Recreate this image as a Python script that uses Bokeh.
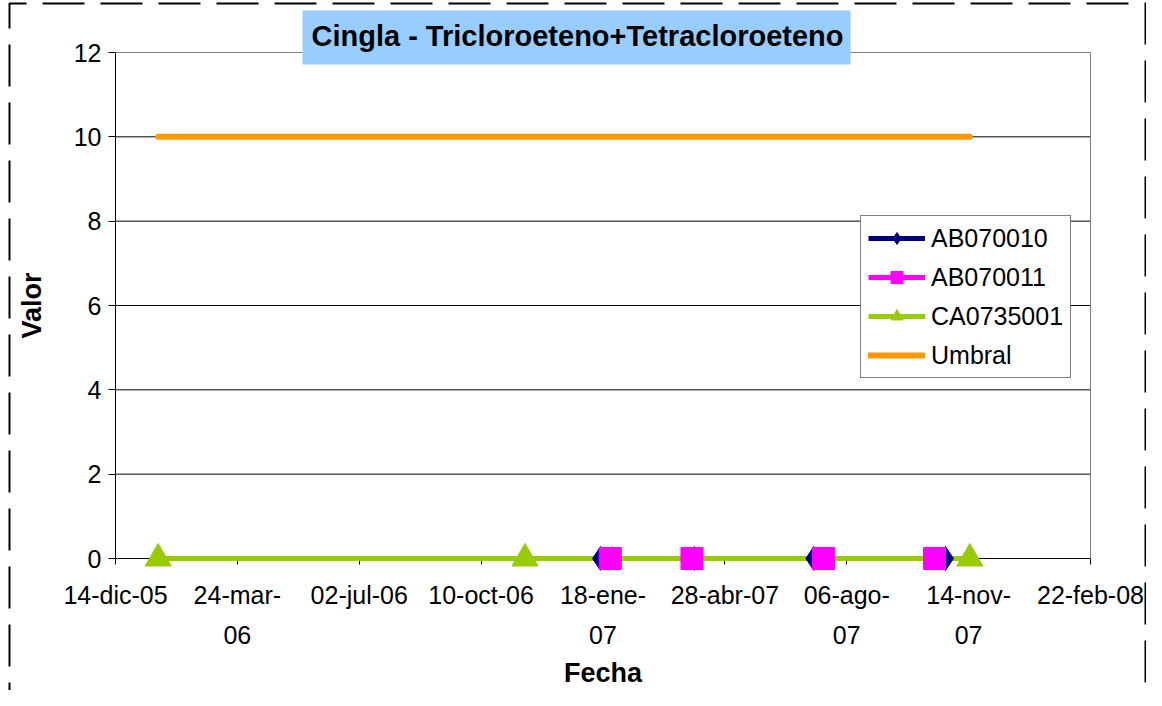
import pandas as pd
from bokeh.plotting import figure
from bokeh.models import (Range1d, FixedTicker, Legend, LegendItem, BoxAnnotation,
                          PolyAnnotation, Label, ColumnDataSource)
from bokeh.embed import file_html
from bokeh.resources import INLINE

# ---------------- data ----------------
title_text = "Cingla - Tricloroeteno+Tetracloroeteno"
x_label = "Fecha"
y_label = "Valor"

tick_dates = ["2005-12-14", "2006-03-24", "2006-07-02", "2006-10-10", "2007-01-18",
              "2007-04-28", "2007-08-06", "2007-11-14", "2008-02-22"]
tick_labels = ["14-dic-05", "24-mar-\n06", "02-jul-06", "10-oct-06", "18-ene-\n07",
               "28-abr-07", "06-ago-\n07", "14-nov-\n07", "22-feb-08"]
y_ticks = [0, 2, 4, 6, 8, 10, 12]

ab070010_dates = ["2007-01-16", "2007-04-03", "2007-07-10", "2007-10-26"]
ab070010_values = [0, 0, 0, 0]
ab070011_dates = ["2007-01-24", "2007-04-01", "2007-07-18", "2007-10-17"]
ab070011_values = [0, 0, 0, 0]
ca0735001_dates = ["2006-01-18", "2006-11-15", "2007-11-15"]
ca0735001_values = [0, 0, 0]
umbral_dates = ["2006-01-18", "2007-11-15"]
umbral_values = [10, 10]

series_names = ["AB070010", "AB070011", "CA0735001", "Umbral"]

# ---------------- layout (pixels on the canvas) ----------------
W, H = 1146, 690
PL, PR, PT, PB = 115, 1090, 52, 558   # plot-area box

def to_ms(dates):
    return [float(v) for v in (pd.to_datetime(dates).asi8 // 1_000_000)]

tick_ms = to_ms(tick_dates)
x0, x1 = tick_ms[0], tick_ms[-1]
y0, y1 = y_ticks[0], y_ticks[-1]
mpp = (x1 - x0) / (PR - PL)
upp = (y1 - y0) / (PB - PT)
FONT = "Liberation Sans"

p = figure(width=W, height=H, x_axis_type="datetime",
           output_backend="svg", toolbar_location=None,
           x_range=Range1d(x0 - PL * mpp, x1 + (W - PR) * mpp),
           y_range=Range1d(y0 - (H - PB) * upp, y1 + PT * upp))
p.min_border = 0
p.min_border_left = 0
p.min_border_right = 0
p.min_border_top = 0
p.min_border_bottom = 0
p.background_fill_color = "white"
p.border_fill_color = "white"
p.outline_line_color = None
p.xgrid.visible = False
p.ygrid.visible = False

# x axis, drawn at y = 0
xa = p.xaxis[0]
xa.fixed_location = y0
xa.bounds = (x0, x1)
xa.level = "underlay"
xa.ticker = FixedTicker(ticks=tick_ms)
xa.major_label_overrides = {t: lab for t, lab in zip(tick_ms, tick_labels)}
xa.axis_line_color = "black"
xa.major_tick_line_color = "black"
xa.major_tick_out = 6
xa.major_tick_in = 0
xa.minor_tick_line_color = None
xa.major_label_text_font = FONT
xa.major_label_text_font_size = "25px"
xa.major_label_text_color = "black"
xa.major_label_text_line_height = 1.45
xa.major_label_standoff = 16
xa.axis_label = x_label
xa.axis_label_text_font = FONT
xa.axis_label_text_font_size = "27px"
xa.axis_label_text_font_style = "bold"
xa.axis_label_text_color = "black"
xa.axis_label_standoff = 6

# y axis, drawn at the first date tick
ya = p.yaxis[0]
ya.fixed_location = x0
ya.bounds = (y0, y1)
ya.level = "underlay"
ya.ticker = FixedTicker(ticks=y_ticks)
ya.axis_line_color = "black"
ya.major_tick_line_color = "black"
ya.major_tick_out = 7
ya.major_tick_in = 0
ya.minor_tick_line_color = None
ya.major_label_text_font = FONT
ya.major_label_text_font_size = "25px"
ya.major_label_text_color = "black"
ya.major_label_standoff = 7
ya.axis_label = y_label
ya.axis_label_text_font = FONT
ya.axis_label_text_font_size = "27px"
ya.axis_label_text_font_style = "bold"
ya.axis_label_text_color = "black"
ya.axis_label_standoff = 24

# grid lines and plot-area border (from the tick arrays)
grid_y = y_ticks[1:-1]
p.segment(x0=[x0] * len(grid_y), x1=[x1] * len(grid_y), y0=grid_y, y1=grid_y,
          line_color="black", line_width=1)
p.segment(x0=[x0, x1], x1=[x1, x1], y0=[y1, y0], y1=[y1, y1],
          line_color="#808080", line_width=1)

# sources
s1 = ColumnDataSource(dict(x=pd.to_datetime(ab070010_dates), y=ab070010_values))
s2 = ColumnDataSource(dict(x=pd.to_datetime(ab070011_dates), y=ab070011_values))
s3 = ColumnDataSource(dict(x=pd.to_datetime(ca0735001_dates), y=ca0735001_values))
s4 = ColumnDataSource(dict(x=pd.to_datetime(umbral_dates), y=umbral_values))

NAVY, MAGENTA, GREEN, ORANGE = "#000080", "#FF00FF", "#99CC00", "#FF9900"

l1 = p.line("x", "y", source=s1, line_color=NAVY, line_width=5)
l2 = p.line("x", "y", source=s2, line_color=MAGENTA, line_width=5)
l3 = p.line("x", "y", source=s3, line_color=GREEN, line_width=5)
l4 = p.line("x", "y", source=s4, line_color=ORANGE, line_width=6, line_cap="round")

m1 = p.scatter("x", "y", source=s1, marker="diamond", size=24,
               fill_color=NAVY, line_color=NAVY)
m2 = p.scatter("x", "y", source=s2, marker="square", size=22,
               fill_color=MAGENTA, line_color=MAGENTA)
m3 = p.scatter("x", "y", source=s3, marker="triangle", size=26,
               fill_color=GREEN, line_color=GREEN)

legend = Legend(items=[
    LegendItem(label=series_names[0], renderers=[l1, m1]),
    LegendItem(label=series_names[1], renderers=[l2, m2]),
    LegendItem(label=series_names[2], renderers=[l3, m3]),
    LegendItem(label=series_names[3], renderers=[l4]),
], location=(860, H - 378))
legend.margin = 0
legend.padding = 7
legend.spacing = 9
legend.glyph_width = 57
legend.glyph_height = 30
legend.label_height = 30
legend.label_standoff = 6
legend.label_text_font = FONT
legend.label_text_font_size = "25px"
legend.label_text_color = "black"
legend.border_line_color = "black"
legend.border_line_width = 1
legend.background_fill_color = "white"
legend.background_fill_alpha = 1
p.add_layout(legend)

# title box + text
title_box = BoxAnnotation(left=302, right=850, top=10, bottom=64,
                          left_units="canvas", right_units="canvas",
                          top_units="canvas", bottom_units="canvas",
                          fill_color="#99CCFF", fill_alpha=1, line_alpha=0,
                          level="overlay")
p.add_layout(title_box)
title_lbl = Label(x=577, y=35, x_units="canvas", y_units="canvas", text=title_text,
                  text_align="center", text_baseline="middle",
                  text_font=FONT, text_font_size="29px", text_font_style="bold",
                  text_color="black", level="overlay")
p.add_layout(title_lbl)

# dashed chart-area border (left, top and right sides)
border = PolyAnnotation(xs=[9, 9, 1145, 1145], ys=[2000, 3, 3, 2000],
                        xs_units="canvas", ys_units="canvas",
                        fill_alpha=0, line_color="black", line_alpha=1,
                        line_width=2, line_dash="42 16", level="overlay")
p.add_layout(border)

open("out.html", "w").write(file_html(p, INLINE))
